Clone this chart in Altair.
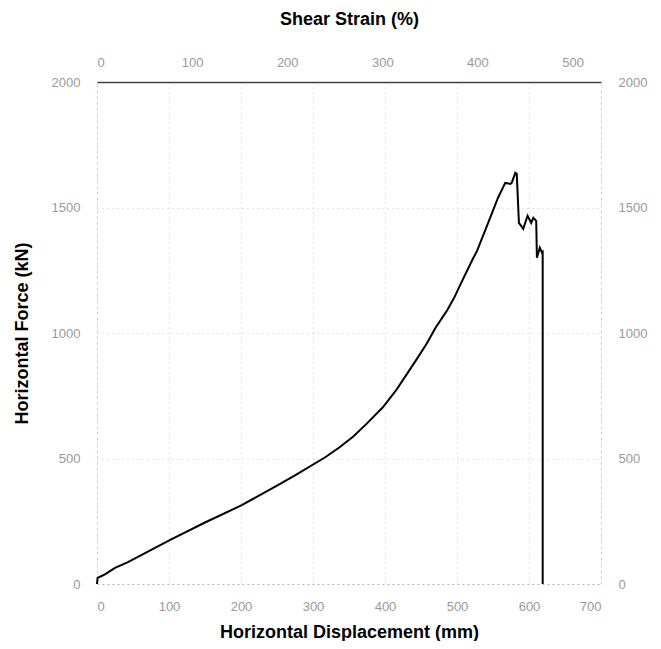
import altair as alt
import pandas as pd

# Horizontal displacement (mm) and horizontal force (kN)
disp = [0, 0.8, 5, 11, 25, 43, 101, 150, 201, 250, 275, 317, 336, 356, 375, 397,
        415, 431, 445, 458, 470, 486, 496, 505, 521, 528, 546, 557, 567, 574, 576,
        581, 583, 586, 592, 598, 603, 606, 610, 611, 615, 618, 619, 619]
force = [0, 24, 30, 38, 64, 87, 175, 245, 314, 392, 433, 505, 543, 588, 640, 704,
         770, 839, 900, 958, 1020, 1089, 1140, 1195, 1290, 1328, 1459, 1539, 1598,
         1594, 1598, 1638, 1634, 1439, 1415, 1467, 1439, 1459, 1447, 1300, 1340,
         1320, 1330, 0]

# Axis tick labels
disp_ticks = [0, 100, 200, 300, 400, 500, 600, 700]
strain_ticks = [0, 100, 200, 300, 400, 500]
force_ticks = [0, 500, 1000, 1500, 2000]
strain_per_mm = 0.757  # shear strain (%) per mm of displacement (top axis scale)

df = pd.DataFrame({"disp": disp, "force": force, "i": list(range(len(disp)))})
df["strain"] = df["disp"] * strain_per_mm

FONT = "Liberation Sans"
LBL = "#9a9a9a"

base = alt.Chart(df)

curve = base.mark_line(color="black", strokeWidth=2).encode(
    x=alt.X("disp:Q",
            scale=alt.Scale(domain=[0, 700], nice=False, zero=False),
            axis=alt.Axis(title="Horizontal Displacement (mm)", values=disp_ticks,
                          format="d", orient="bottom", labelPadding=16,
                          titlePadding=10, ticks=False, domainColor="#bbbbbb",
                          domainDash=[2, 3], grid=True, gridColor="#b0b0b0",
                          gridDash=[1, 4], gridOpacity=0.7)),
    y=alt.Y("force:Q",
            scale=alt.Scale(domain=[0, 2000], nice=False),
            axis=alt.Axis(title="Horizontal Force (kN)", values=force_ticks,
                          format="d", orient="left", labelPadding=17,
                          titlePadding=20, ticks=False, domainColor="#cccccc",
                          domainDash=[2, 4], grid=True, gridColor="#b0b0b0",
                          gridDash=[1, 4], gridOpacity=0.7)),
    order=alt.Order("i:Q"),
)

top_axis = base.mark_line(opacity=0).encode(
    x=alt.X("strain:Q",
            scale=alt.Scale(domain=[0, 700 * strain_per_mm], nice=False, zero=False),
            axis=alt.Axis(title="Shear Strain (%)", values=strain_ticks, format="d",
                          orient="top", labelPadding=13, titlePadding=28,
                          ticks=False, domainColor="#444444", domainWidth=1.5,
                          grid=False)),
    y=alt.Y("force:Q",
            scale=alt.Scale(domain=[0, 2000], nice=False),
            axis=alt.Axis(title=None, values=force_ticks, format="d",
                          orient="right", labelPadding=17, ticks=False,
                          domainColor="#cccccc", domainDash=[2, 4], grid=False)),
    order=alt.Order("i:Q"),
)

chart = alt.layer(curve, top_axis).resolve_scale(
    x="independent", y="independent"
).properties(
    width=504, height=502,
    autosize=alt.AutoSizeParams(type="none"),
    padding={"left": 89, "top": 74, "right": 52, "bottom": 57},
).configure_view(
    stroke=None
).configure_axis(
    labelFont=FONT, labelFontSize=13, labelColor=LBL,
    titleFont=FONT, titleFontSize=18, titleFontWeight="bold", titleColor="black",
)

chart.save("out.html", embed_options={"renderer": "svg", "actions": False})
